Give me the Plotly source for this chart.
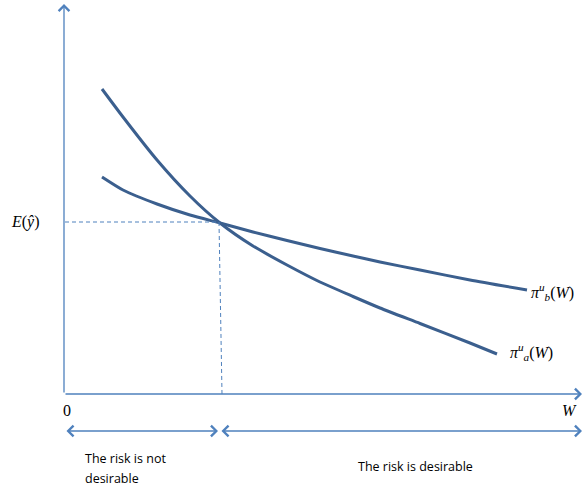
import plotly.graph_objects as go

# Curve data (W, pi), origin at the axes corner
w_a = [37, 58, 92, 125, 155, 188, 222, 255, 288, 315, 355, 405, 432]
pi_a = [305, 277, 234, 198, 171, 148, 129, 112, 97.5, 86, 70.5, 51, 40]
w_b = [37, 58, 92, 125, 155, 188, 222, 255, 288, 315, 355, 405, 462]
pi_b = [217, 204, 190, 179, 171, 162, 153.5, 145.5, 138, 132, 124, 114, 104]

w_star = 155
e_y = 172
x_max = 517
y_max = 390

curve_color = "#3B5F8E"
axis_color = "#4F81BD"

fig = go.Figure()
fig.add_trace(go.Scatter(x=w_a, y=pi_a, mode="lines", line=dict(color=curve_color, width=3, shape="spline", smoothing=0.6), hoverinfo="skip"))
fig.add_trace(go.Scatter(x=w_b, y=pi_b, mode="lines", line=dict(color=curve_color, width=3, shape="spline", smoothing=0.6), hoverinfo="skip"))

# dashed guides
fig.add_shape(type="line", x0=0, y0=e_y, x1=w_star - 1, y1=e_y, line=dict(color=axis_color, width=1, dash="4px,3px"))
fig.add_shape(type="line", x0=w_star - 1, y0=e_y, x1=w_star + 2, y1=0, line=dict(color=axis_color, width=1, dash="4px,3px"))

def arrow(x0, y0, x1, y1, side="end"):
    fig.add_annotation(x=x1, y=y1, ax=x0, ay=y0, xref="x", yref="y", axref="x", ayref="y",
                       showarrow=True, arrowhead=4, startarrowhead=4, arrowside=side,
                       arrowsize=1.6, startarrowsize=1.6, arrowwidth=1.3, arrowcolor=axis_color, text="")

# axes
arrow(-1, 0, -1, y_max)
arrow(-1, 0, x_max, 0)
# region arrows
arrow(0, -37, w_star - 2, -37, side="end+start")
arrow(w_star, -37, x_max, -37, side="end+start")

serif = "Liberation Serif"
sans = "Open Sans"

def label(x, y, text, xanchor="center", font=serif, size=16):
    fig.add_annotation(x=x, y=y, xref="x", yref="y", text=text, showarrow=False,
                       xanchor=xanchor, yanchor="middle", font=dict(family=font, size=size, color="black"))

label(-40, e_y, "<i>E</i>(<i>ŷ</i>)")
label(2, -16, "0")
label(504, -16, "<i>W</i>")
label(464, 102, "<i>π</i><sup><i>u</i></sup><sub><i>b</i></sub>(<i>W</i>)", xanchor="left")
label(443, 42, "<i>π</i><sup><i>u</i></sup><sub><i>a</i></sub>(<i>W</i>)", xanchor="left")
label(18, -64, "The risk is not", xanchor="left", font=sans, size=12.5)
label(18, -84, "desirable", xanchor="left", font=sans, size=12.5)
label(350, -72, "The risk is desirable", font=sans, size=12.5)

fig.update_layout(
    width=583, height=488, margin=dict(l=0, r=0, t=0, b=0),
    plot_bgcolor="white", paper_bgcolor="white", showlegend=False,
    xaxis=dict(range=[-65, 518], visible=False, fixedrange=True),
    yaxis=dict(range=[-94, 394], visible=False, fixedrange=True),
)
fig.write_html("out.html", config={"displayModeBar": False},
               post_script="document.body.style.margin='0';document.body.style.overflow='hidden';")
